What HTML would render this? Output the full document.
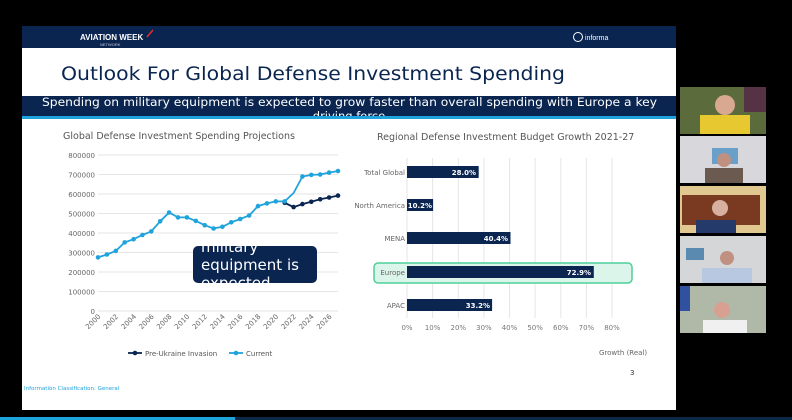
<!DOCTYPE html>
<html><head><meta charset="utf-8"><style>
html,body{margin:0;padding:0;background:#000;width:792px;height:420px;overflow:hidden;font-family:"DejaVu Sans","Liberation Sans",sans-serif}
</style></head><body>
<svg width="792" height="420" viewBox="0 0 792 420" xmlns="http://www.w3.org/2000/svg" font-family="DejaVu Sans, Liberation Sans, sans-serif">
<rect width="792" height="420" fill="#000"/>
<rect x="22" y="26" width="654" height="384" fill="#fff"/>
<rect x="22" y="26" width="654" height="22" fill="#0a2550"/>
<text x="80" y="40" font-size="8" font-weight="bold" fill="#fff" font-family="Liberation Sans, sans-serif">AVIATION WEEK</text>
<text x="100" y="46" font-size="4" fill="#ccd" font-family="Liberation Sans, sans-serif">NETWORK</text>
<path d="M147 37 L153 30" stroke="#e03030" stroke-width="1.5"/>
<circle cx="578" cy="37" r="4.5" fill="none" stroke="#fff" stroke-width="1"/>
<text x="585" y="40" font-size="7" fill="#fff" font-family="Liberation Sans, sans-serif">informa</text>
<text x="61" y="80" font-size="19" fill="#0a2550" textLength="504" lengthAdjust="spacingAndGlyphs">Outlook For Global Defense Investment Spending</text>
<rect x="22" y="96" width="654" height="20" fill="#0a2550"/>
<svg x="22" y="96" width="654" height="20"><text x="20" y="10" font-size="11.5" fill="#fff" textLength="615" lengthAdjust="spacingAndGlyphs">Spending on military equipment is expected to grow faster than overall spending with Europe a key</text><text x="327" y="24" font-size="11.5" fill="#fff" text-anchor="middle">driving force</text></svg>
<rect x="22" y="116" width="654" height="3" fill="#1fa3dc"/>

<text x="63" y="139" font-size="9.5" fill="#555">Global Defense Investment Spending Projections</text>
<g stroke="#e6e6e6" stroke-width="1">
<line x1="98" x2="338" y1="155" y2="155"/><line x1="98" x2="338" y1="174.5" y2="174.5"/><line x1="98" x2="338" y1="194" y2="194"/><line x1="98" x2="338" y1="213.5" y2="213.5"/><line x1="98" x2="338" y1="233" y2="233"/><line x1="98" x2="338" y1="252.5" y2="252.5"/><line x1="98" x2="338" y1="272" y2="272"/><line x1="98" x2="338" y1="291.5" y2="291.5"/><line x1="98" x2="338" y1="311" y2="311"/>
</g>
<g font-size="7" fill="#666" text-anchor="end">
<text x="95" y="158">800000</text><text x="95" y="177.5">700000</text><text x="95" y="197">600000</text><text x="95" y="216.5">500000</text><text x="95" y="236">400000</text><text x="95" y="255.5">300000</text><text x="95" y="275">200000</text><text x="95" y="294.5">100000</text><text x="95" y="314">0</text>
</g>
<g font-size="7" fill="#666" text-anchor="end">
<text transform="translate(101,317) rotate(-45)">2000</text>
<text transform="translate(118.8,317) rotate(-45)">2002</text>
<text transform="translate(136.6,317) rotate(-45)">2004</text>
<text transform="translate(154.3,317) rotate(-45)">2006</text>
<text transform="translate(172.1,317) rotate(-45)">2008</text>
<text transform="translate(189.9,317) rotate(-45)">2010</text>
<text transform="translate(207.7,317) rotate(-45)">2012</text>
<text transform="translate(225.4,317) rotate(-45)">2014</text>
<text transform="translate(243.2,317) rotate(-45)">2016</text>
<text transform="translate(261,317) rotate(-45)">2018</text>
<text transform="translate(278.8,317) rotate(-45)">2020</text>
<text transform="translate(296.6,317) rotate(-45)">2022</text>
<text transform="translate(314.3,317) rotate(-45)">2024</text>
<text transform="translate(332.1,317) rotate(-45)">2026</text>
</g>
<polyline fill="none" stroke="#0a2550" stroke-width="1.8" points="284.7,202.8 293.6,207.1 302.4,204.1 311.3,201.8 320.2,199.3 329.1,197.5 338,195.6"/>
<g fill="#0a2550"><circle cx="284.7" cy="202.8" r="2.3"/><circle cx="293.6" cy="207.1" r="2.3"/><circle cx="302.4" cy="204.1" r="2.3"/><circle cx="311.3" cy="201.8" r="2.3"/><circle cx="320.2" cy="199.3" r="2.3"/><circle cx="329.1" cy="197.5" r="2.3"/><circle cx="338" cy="195.6" r="2.3"/></g>
<polyline fill="none" stroke="#1fa3dc" stroke-width="1.8" points="98,257.4 106.9,254.5 115.8,250.9 124.7,242.4 133.6,239.2 142.4,235 151.3,231.4 160.2,221.3 169.1,212.5 178,217.4 186.9,217.4 195.8,220.9 204.7,225.2 213.6,228.5 222.4,226.8 231.3,222.3 240.2,219 249.1,215.5 258,206.1 266.9,203.4 275.8,201.4 284.7,201.4 293.6,193 302.4,176.5 311.3,174.9 320.2,174.5 329.1,172.6 338,171"/>
<g fill="#1fa3dc"><circle cx="98" cy="257.4" r="2.3"/><circle cx="106.9" cy="254.5" r="2.3"/><circle cx="115.8" cy="250.9" r="2.3"/><circle cx="124.7" cy="242.4" r="2.3"/><circle cx="133.6" cy="239.2" r="2.3"/><circle cx="142.4" cy="235" r="2.3"/><circle cx="151.3" cy="231.4" r="2.3"/><circle cx="160.2" cy="221.3" r="2.3"/><circle cx="169.1" cy="212.5" r="2.3"/><circle cx="178" cy="217.4" r="2.3"/><circle cx="186.9" cy="217.4" r="2.3"/><circle cx="195.8" cy="220.9" r="2.3"/><circle cx="204.7" cy="225.2" r="2.3"/><circle cx="213.6" cy="228.5" r="2.3"/><circle cx="222.4" cy="226.8" r="2.3"/><circle cx="231.3" cy="222.3" r="2.3"/><circle cx="240.2" cy="219" r="2.3"/><circle cx="249.1" cy="215.5" r="2.3"/><circle cx="258" cy="206.1" r="2.3"/><circle cx="266.9" cy="203.4" r="2.3"/><circle cx="275.8" cy="201.4" r="2.3"/><circle cx="284.7" cy="201.4" r="2.3"/><circle cx="302.4" cy="176.5" r="2.3"/><circle cx="311.3" cy="174.9" r="2.3"/><circle cx="320.2" cy="174.5" r="2.3"/><circle cx="329.1" cy="172.6" r="2.3"/><circle cx="338" cy="171" r="2.3"/></g>
<rect x="193" y="246" width="124" height="37" rx="5" fill="#0a2550"/>
<svg x="193" y="246" width="124" height="37"><text x="8" y="6" font-size="15" fill="#fff">military</text><text x="8" y="24" font-size="15" fill="#fff">equipment is</text><text x="8" y="42" font-size="15" fill="#fff">expected</text></svg>
<line x1="128" x2="142" y1="353" y2="353" stroke="#0a2550" stroke-width="1.8"/><circle cx="135" cy="353" r="2.3" fill="#0a2550"/>
<text x="145" y="356" font-size="7" fill="#555">Pre-Ukraine Invasion</text>
<line x1="229" x2="243" y1="353" y2="353" stroke="#1fa3dc" stroke-width="1.8"/><circle cx="236" cy="353" r="2.3" fill="#1fa3dc"/>
<text x="246" y="356" font-size="7" fill="#555">Current</text>

<text x="377" y="140" font-size="9.5" fill="#555">Regional Defense Investment Budget Growth 2021-27</text>
<g stroke="#e6e6e6"><line x1="407" x2="407" y1="158" y2="318"/><line x1="432.6" x2="432.6" y1="158" y2="318"/><line x1="458.3" x2="458.3" y1="158" y2="318"/><line x1="483.9" x2="483.9" y1="158" y2="318"/><line x1="509.5" x2="509.5" y1="158" y2="318"/><line x1="535.1" x2="535.1" y1="158" y2="318"/><line x1="560.8" x2="560.8" y1="158" y2="318"/><line x1="586.4" x2="586.4" y1="158" y2="318"/><line x1="612" x2="612" y1="158" y2="318"/></g>
<rect x="374" y="263" width="258" height="20" rx="4" fill="#dcf5ea" stroke="#4fcf9a" stroke-width="1.5"/>
<g fill="#0a2550">
<rect x="407" y="166" width="71.7" height="12"/><rect x="407" y="199" width="26.1" height="12"/><rect x="407" y="232" width="103.5" height="12"/><rect x="407" y="266" width="186.8" height="12"/><rect x="407" y="299" width="85.1" height="12"/>
</g>
<g font-size="7" font-weight="bold" fill="#fff" text-anchor="end">
<text x="476" y="175">28.0%</text><text x="432" y="208">10.2%</text><text x="508" y="241">40.4%</text><text x="591" y="275">72.9%</text><text x="490" y="308">33.2%</text>
</g>
<g font-size="7" fill="#666" text-anchor="end">
<text x="405" y="175">Total Global</text><text x="405" y="208">North America</text><text x="405" y="241">MENA</text><text x="405" y="275">Europe</text><text x="405" y="308">APAC</text>
</g>
<g font-size="7" fill="#777" text-anchor="middle">
<text x="407" y="330">0%</text><text x="432.6" y="330">10%</text><text x="458.3" y="330">20%</text><text x="483.9" y="330">30%</text><text x="509.5" y="330">40%</text><text x="535.1" y="330">50%</text><text x="560.8" y="330">60%</text><text x="586.4" y="330">70%</text><text x="612" y="330">80%</text>
</g>
<text x="599" y="355" font-size="7" fill="#666">Growth (Real)</text>
<text x="630" y="375" font-size="7" fill="#333">3</text>
<text x="24" y="390" font-size="5.5" fill="#1fa3dc">Information Classification: General</text>

<rect x="680" y="87" width="86" height="47" fill="#5b6b3c"/><rect x="700" y="115" width="50" height="19" fill="#e8c830"/><circle cx="725" cy="105" r="10" fill="#d8a890"/><rect x="744" y="87" width="22" height="25" fill="#553344"/>
<rect x="680" y="136" width="86" height="47" fill="#d8d8dc"/><rect x="712" y="148" width="26" height="16" fill="#6aa0c8"/><rect x="705" y="168" width="38" height="15" fill="#6a5a50"/><circle cx="724" cy="160" r="7" fill="#c09080"/>
<rect x="680" y="186" width="86" height="47" fill="#e0c890"/><rect x="682" y="195" width="78" height="30" fill="#7a3a22"/><rect x="696" y="220" width="40" height="13" fill="#243a6a"/><circle cx="720" cy="208" r="8" fill="#d8b0a0"/>
<rect x="680" y="236" width="86" height="47" fill="#d4d6d8"/><rect x="686" y="248" width="18" height="12" fill="#5a8ab0"/><rect x="702" y="268" width="50" height="15" fill="#b8c8e0"/><circle cx="727" cy="258" r="7" fill="#c09080"/>
<rect x="680" y="286" width="86" height="47" fill="#b0b8a8"/><rect x="680" y="286" width="10" height="25" fill="#3050a0"/><rect x="703" y="320" width="44" height="13" fill="#f0f0f0"/><circle cx="722" cy="310" r="8" fill="#d8a090"/>

<rect x="0" y="417" width="235" height="3" fill="#1fa3dc"/>
<rect x="235" y="417" width="557" height="3" fill="#0a2a48"/>
</svg>
</body></html>
